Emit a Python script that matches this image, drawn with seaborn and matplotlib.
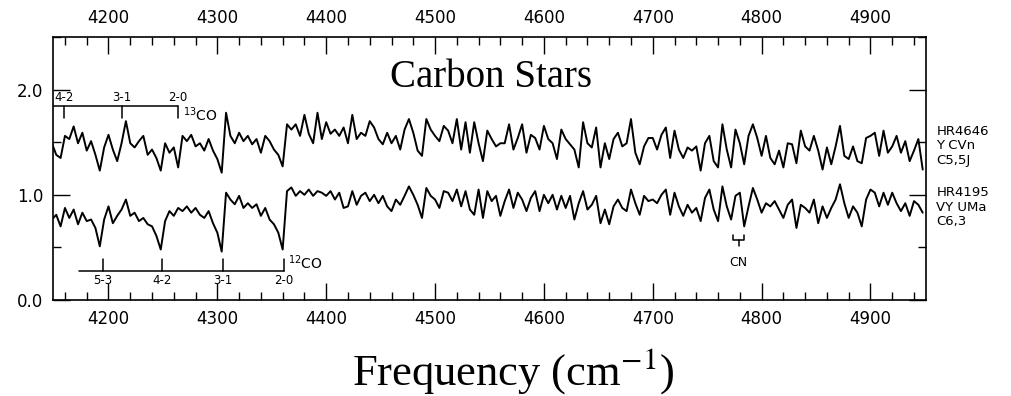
import numpy as np
import matplotlib
matplotlib.use('Agg')
import matplotlib.pyplot as plt
from matplotlib.ticker import MultipleLocator, FormatStrFormatter
import seaborn as sns

# sampling grid of the scanned spectra (cm^-1)
wavenumber = np.arange(4148, 4949, 4)

# HR4646 / Y CVn (left to right)
hr4646 = [
    1.49, 1.38, 1.35, 1.56, 1.53, 1.65, 1.49, 1.59, 1.42, 1.51, 1.38, 1.23,
    1.45, 1.57, 1.43, 1.32, 1.49, 1.70, 1.49, 1.45, 1.51, 1.56, 1.38, 1.43,
    1.35, 1.23, 1.49, 1.40, 1.45, 1.26, 1.56, 1.51, 1.57, 1.46,
    1.49, 1.42, 1.53, 1.42, 1.34, 1.21, 1.78, 1.56, 1.49, 1.59, 1.51, 1.56,
    1.48, 1.53, 1.40, 1.56, 1.51, 1.43, 1.38, 1.27, 1.67, 1.62, 1.67, 1.56,
    1.76, 1.58, 1.49, 1.78, 1.53, 1.69, 1.58, 1.62, 1.56, 1.64,
    1.49, 1.76, 1.53, 1.59, 1.56, 1.70, 1.64, 1.53, 1.48, 1.59, 1.49, 1.56,
    1.43, 1.62, 1.72, 1.59, 1.42, 1.37, 1.72, 1.62, 1.56, 1.51, 1.655, 1.61,
    1.49, 1.72, 1.43, 1.69, 1.40, 1.69, 1.49, 1.32, 1.61,
    1.53, 1.46, 1.49, 1.49, 1.67, 1.43, 1.54, 1.67, 1.40, 1.57, 1.54, 1.43,
    1.655, 1.53, 1.49, 1.34, 1.62, 1.53, 1.48, 1.43, 1.26, 1.69, 1.49, 1.45,
    1.64, 1.26, 1.49, 1.34, 1.53, 1.59, 1.46, 1.49, 1.72, 1.40,
    1.29, 1.46, 1.54, 1.54, 1.43, 1.57, 1.64, 1.35, 1.61, 1.43, 1.35, 1.45,
    1.42, 1.46, 1.23, 1.49, 1.56, 1.32, 1.26, 1.67, 1.43, 1.26, 1.62, 1.49,
    1.29, 1.56, 1.67, 1.54, 1.37, 1.56, 1.35, 1.29, 1.42,
    1.26, 1.49, 1.48, 1.30, 1.61, 1.46, 1.42, 1.56, 1.42, 1.24, 1.45, 1.29,
    1.46, 1.655, 1.37, 1.34, 1.46, 1.32, 1.30, 1.54, 1.56, 1.59, 1.37, 1.61,
    1.40, 1.46, 1.56, 1.40, 1.51, 1.32, 1.42, 1.53, 1.24,
]

# HR4195 / VY UMa
hr4195 = [
    0.765, 0.81, 0.70, 0.875, 0.78, 0.86, 0.72, 0.83, 0.75, 0.765, 0.685, 0.51,
    0.765, 0.89, 0.73, 0.80, 0.86, 0.955, 0.80, 0.83, 0.75, 0.78, 0.72, 0.70,
    0.61, 0.48, 0.75, 0.845, 0.80, 0.875, 0.845, 0.89, 0.83, 0.875,
    0.81, 0.78, 0.845, 0.73, 0.64, 0.46, 1.02, 0.955, 0.91, 0.99, 0.875, 0.92,
    0.875, 0.91, 0.80, 0.875, 0.765, 0.72, 0.64, 0.48, 1.035, 1.07, 0.99, 1.035,
    1.00, 1.05, 0.99, 1.035, 1.02, 0.99, 1.035, 0.955, 1.02, 0.875,
    0.89, 1.035, 0.905, 0.99, 1.02, 0.94, 1.00, 0.92, 0.99, 0.89, 0.845, 0.955,
    0.905, 0.99, 1.08, 1.00, 0.905, 0.78, 1.065, 0.99, 0.955, 0.875, 1.035, 1.02,
    0.94, 1.05, 0.89, 1.035, 0.86, 0.81, 1.05, 0.78, 1.035,
    0.94, 0.99, 0.80, 0.94, 1.05, 0.875, 1.02, 0.955, 0.845, 0.97, 1.035, 0.845,
    1.00, 0.92, 1.00, 0.86, 0.99, 0.875, 0.99, 0.765, 0.92, 1.035, 0.86, 0.905,
    0.99, 0.73, 0.86, 0.72, 0.89, 0.955, 0.875, 0.845, 1.05, 0.92,
    0.81, 0.99, 0.94, 0.955, 0.92, 1.00, 1.05, 0.81, 1.02, 0.89, 0.80, 0.905,
    0.83, 0.875, 0.75, 0.97, 1.05, 0.86, 0.75, 1.08, 0.89, 0.765, 0.99, 1.02,
    0.70, 0.89, 1.065, 0.955, 0.83, 0.92, 0.89, 0.94, 0.86,
    0.78, 0.905, 0.955, 0.685, 0.905, 0.875, 0.83, 0.955, 0.73, 0.89, 0.78, 0.875,
    0.955, 1.10, 0.92, 0.78, 0.89, 0.83, 0.70, 0.955, 1.05, 1.02, 0.89, 1.02,
    0.905, 1.02, 0.92, 0.845, 0.92, 0.80, 0.94, 0.905, 0.83,
]

# star names shown to the right of each trace
star_labels = ['HR4646\nY CVn\nC5,5J', 'HR4195\nVY UMa\nC6,3']

# bandheads marked on the chart
co13_heads = [4159, 4212, 4264]
co13_bands = ['4-2', '3-1', '2-0']
co12_heads = [4195, 4249, 4305, 4361]
co12_bands = ['5-3', '4-2', '3-1', '2-0']
cn_pair = [4774, 4784]

sns.set_style('ticks')
plt.rcParams['font.family'] = ['DejaVu Sans']
plt.rcParams['text.color'] = 'black'

fig = plt.figure(figsize=(10.11, 3.96), dpi=100)
ax = fig.add_axes([0.0524, 0.2424, 0.8635, 0.6642])

# the two spectra
sns.lineplot(x=wavenumber, y=hr4646, color='black', lw=1.4, ax=ax)
sns.lineplot(x=wavenumber, y=hr4195, color='black', lw=1.4, ax=ax)

ax.set_xlim(4149, 4951)
ax.set_ylim(0, 2.5)
ax.xaxis.set_major_locator(MultipleLocator(100))
ax.xaxis.set_minor_locator(MultipleLocator(20))
ax.yaxis.set_major_locator(MultipleLocator(1.0))
ax.yaxis.set_minor_locator(MultipleLocator(0.5))
ax.yaxis.set_major_formatter(FormatStrFormatter('%.1f'))
ax.tick_params(which='both', direction='in', top=True, right=True,
               labeltop=True, labelbottom=True, labelsize=12, width=1,
               pad=7, color='black', labelcolor='black')
ax.tick_params(which='major', length=12)
ax.tick_params(which='minor', length=5.5)
for s in ax.spines.values():
    s.set_linewidth(1.2)
    s.set_color('black')

# 13CO bracket over the upper spectrum
ax.plot([4149, co13_heads[-1]], [1.84, 1.84], color='black', lw=1.1)
for h, b in zip(co13_heads, co13_bands):
    ax.plot([h, h], [1.84, 1.73], color='black', lw=1.1)
    ax.text(h, 1.86, b, ha='center', va='bottom', fontsize=8.5)
ax.text(co13_heads[-1] + 4, 1.76, r'$^{13}$CO', ha='left', va='center', fontsize=10)

# 12CO bracket under the lower spectrum
ax.plot([4173, co12_heads[-1]], [0.28, 0.28], color='black', lw=1.1)
for h, b in zip(co12_heads, co12_bands):
    ax.plot([h, h], [0.28, 0.39], color='black', lw=1.1)
    ax.text(h, 0.25, b, ha='center', va='top', fontsize=8.5)
ax.text(co12_heads[-1] + 4, 0.35, r'$^{12}$CO', ha='left', va='center', fontsize=10)

# CN marker
cn_mid = sum(cn_pair) / 2
ax.plot([cn_pair[0], cn_pair[0], cn_pair[1], cn_pair[1]], [0.62, 0.575, 0.575, 0.62],
        color='black', lw=1.1)
ax.plot([cn_mid, cn_mid], [0.575, 0.51], color='black', lw=1.1)
ax.text(cn_mid, 0.355, 'CN', ha='center', va='center', fontsize=9)

# star names on the right
for lab, yy in zip(star_labels, [1.465, 0.88]):
    ax.text(1.012, yy, lab, transform=ax.get_yaxis_transform(), ha='left',
            va='center', fontsize=9.5, linespacing=1.15)

ax.text(4551, 2.02, 'Carbon Stars', family='Liberation Serif', fontsize=28,
        ha='center', va='baseline')
fig.text(0.5074, 0.028, r'Frequency (cm$^{-1}$)', family='Liberation Serif',
         math_fontfamily='stix', fontsize=32, ha='center', va='baseline')

fig.savefig('out.png', dpi=100)
